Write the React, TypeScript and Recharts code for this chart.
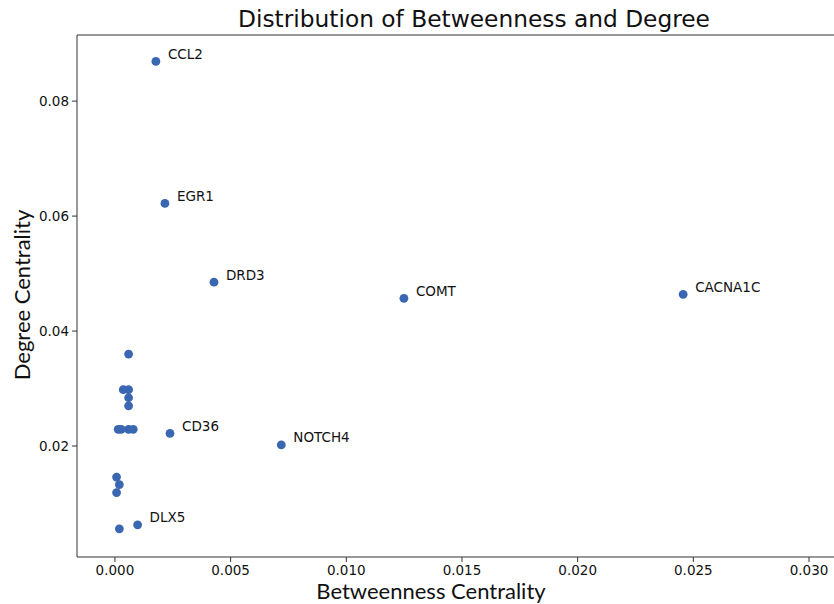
import * as React from 'react';
import { ScatterChart, Scatter, XAxis, YAxis, ReferenceLine } from 'recharts';

// gene names ('' = unlabelled point)
const genes = [
  'CCL2', 'EGR1', 'DRD3', 'COMT', 'CACNA1C', 'CD36', 'NOTCH4', 'DLX5',
  '', '', '', '', '', '', '', '', '', '', '', '', '',
];
const betweenness = [
  0.00177, 0.00216, 0.00428, 0.01249, 0.02456, 0.00238, 0.00719, 0.00098,
  0.00059, 0.00036, 0.00059, 0.00059, 0.00059,
  0.00014, 0.00027, 0.00059, 0.00079,
  0.00007, 0.00019, 0.00007, 0.00019,
];
const degree = [
  0.0869, 0.0622, 0.0485, 0.0457, 0.0464, 0.0222, 0.0202, 0.0063,
  0.0360, 0.0298, 0.0298, 0.0284, 0.0270,
  0.0229, 0.0229, 0.0229, 0.0229,
  0.0146, 0.0133, 0.0119, 0.0056,
];
const xTicks = [0, 0.005, 0.01, 0.015, 0.02, 0.025, 0.03];
const yTicks = [0.02, 0.04, 0.06, 0.08];

const points = genes.map((name, i) => ({ name, x: betweenness[i], y: degree[i] }));

const X_DOMAIN = [-0.00164, 0.03108];
const Y_DOMAIN = [0.0007, 0.0915];
const DOT = '#3a67b1';
const AXIS = '#333';
const FONT = '"DejaVu Sans", sans-serif';

function Dot(props: any) {
  const { cx, cy, payload } = props;
  return (
    <g>
      <circle cx={cx} cy={cy} r={4.4} fill={DOT} />
      {payload.name ? (
        <text x={cx + 12} y={cy - 2.6} fontSize={13.5} fontFamily={FONT} fill="#111">
          {payload.name}
        </text>
      ) : null}
    </g>
  );
}

export default function App() {
  return (
    <div style={{ position: 'absolute', left: 0, top: 0, width: 834, height: 604, overflow: 'hidden', background: '#fff' }}>
      <div style={{ position: 'absolute', left: 0, width: 948, top: 5, textAlign: 'center', fontFamily: FONT, fontSize: 23.3, color: '#111', lineHeight: '28px' }}>
        Distribution of Betweenness and Degree
      </div>
      <div style={{ position: 'absolute', left: 231, width: 400, top: 578, textAlign: 'center', fontFamily: 'Lato, sans-serif', fontSize: 22, color: '#111', lineHeight: '26px' }}>
        Betweenness Centrality
      </div>
      <div style={{ position: 'absolute', left: 22 - 150, width: 300, top: 295 - 13, textAlign: 'center', fontFamily: 'Lato, sans-serif', fontSize: 22, color: '#111', lineHeight: '26px', transform: 'rotate(-90deg)' }}>
        Degree Centrality
      </div>
      <ScatterChart width={834} height={604} margin={{ top: 35, left: 17, right: 0, bottom: 17 }}>
        <XAxis
          type="number"
          dataKey="x"
          domain={X_DOMAIN}
          ticks={xTicks}
          allowDataOverflow
          tickFormatter={(v: number) => v.toFixed(3)}
          height={30}
          stroke={AXIS}
          tickSize={5}
          tick={{ fill: '#111', fontSize: 13.5, fontFamily: FONT }}
          tickMargin={3}
        />
        <YAxis
          type="number"
          dataKey="y"
          domain={Y_DOMAIN}
          ticks={yTicks}
          allowDataOverflow
          tickFormatter={(v: number) => v.toFixed(2)}
          width={60}
          stroke={AXIS}
          tickSize={5}
          tick={{ fill: '#111', fontSize: 13.5, fontFamily: FONT }}
          tickMargin={3}
        />
        {/* top frame of the axes box */}
        <ReferenceLine y={Y_DOMAIN[1]} stroke={AXIS} strokeWidth={1} ifOverflow="extendDomain" />
        <Scatter data={points} shape={<Dot />} isAnimationActive={false} />
      </ScatterChart>
    </div>
  );
}
